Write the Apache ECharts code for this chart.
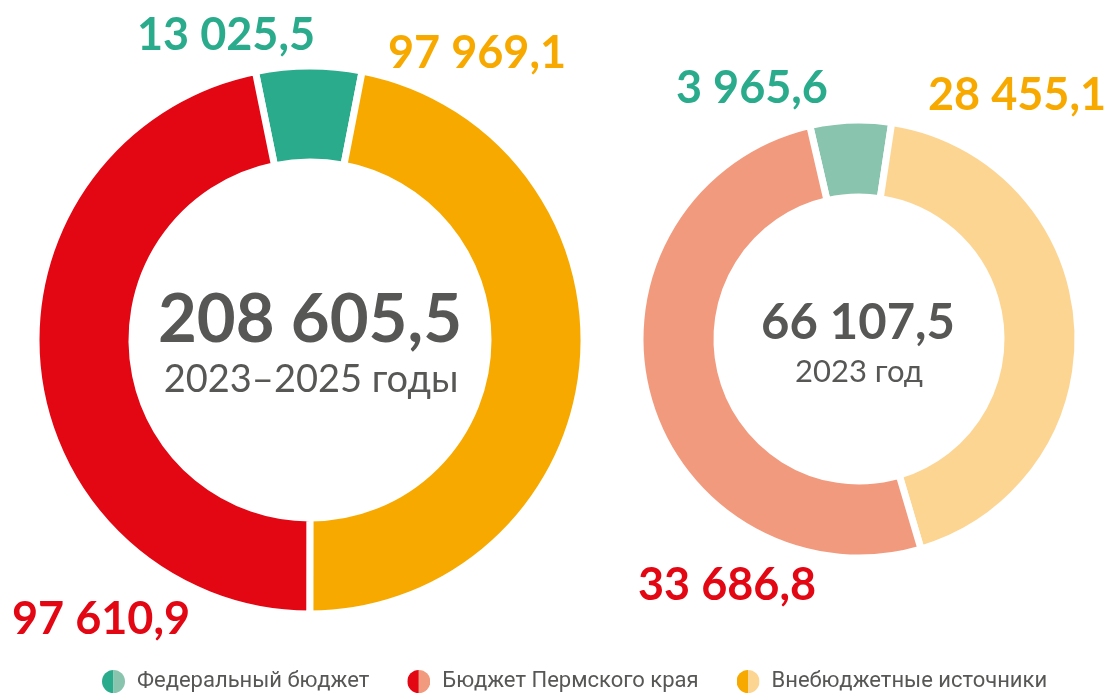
<!DOCTYPE html>
<html>
<head>
<meta charset="utf-8">
<script src="https://cdn.jsdelivr.net/npm/echarts@6/dist/echarts.min.js"></script>
<style>
  html, body { margin: 0; padding: 0; background: #fff; }
  #chart { width: 1111px; height: 693px; }
</style>
</head>
<body>
<div id="chart"></div>
<script>
// источники финансирования
var names = ['Федеральный бюджет', 'Внебюджетные источники', 'Бюджет Пермского края']
var legendOrder = ['Федеральный бюджет', 'Бюджет Пермского края', 'Внебюджетные источники']
// 2023–2025 годы
var valuesTotal = [13025.5, 97969.1, 97610.9]
// 2023 год
var values2023 = [3965.6, 28455.1, 33686.8]
var periodLabels = ['2023–2025 годы', '2023 год']

var darkColors = ['#2aac8c', '#f7a900', '#e30613']
var lightColors = ['#88c4ae', '#fdd593', '#f29a7d']
var textGrey = '#575756'
var numFont = 'Lato'

// подписи: левый край и середина заглавных
var labelPos = [
  [[137, 35], [388, 53], [12, 619]],
  [[676, 88], [928, 95], [638, 585]]
]

function fmt (v) {
  var parts = v.toFixed(1).split('.')
  return parts[0].replace(/\B(?=(\d{3})+(?!\d))/g, ' ') + ',' + parts[1]
}

function sum (arr) {
  return arr.reduce(function (a, b) { return a + b }, 0)
}

// иконка легенды: круг из двух половин
function halfIcon (c1, c2) {
  var svg = '<svg xmlns="http://www.w3.org/2000/svg" width="20" height="20" viewBox="0 0 20 20">' +
    '<path d="M10 0 A10 10 0 0 0 10 20 Z" fill="' + c1 + '"/>' +
    '<path d="M10 0 A10 10 0 0 1 10 20 Z" fill="' + c2 + '"/></svg>'
  return 'image://data:image/svg+xml;charset=utf-8,' + encodeURIComponent(svg)
}

function makeSeries (idx, values, colors, center, radius, startAngle) {
  return {
    type: 'pie',
    center: center,
    radius: radius,
    startAngle: startAngle,
    clockwise: true,
    avoidLabelOverlap: false,
    silent: true,
    itemStyle: { borderColor: '#fff', borderWidth: 7 },
    label: {
      show: true,
      position: 'outside',
      formatter: function (p) { return fmt(p.value) },
      fontFamily: numFont,
      fontWeight: 'bold',
      fontSize: 45
    },
    labelLine: { show: false },
    labelLayout: function (p) {
      var pos = labelPos[idx][p.dataIndex]
      return { x: pos[0], y: pos[1], align: 'left', verticalAlign: 'middle' }
    },
    data: values.map(function (v, i) {
      return {
        name: names[i],
        value: v,
        itemStyle: { color: colors[i] },
        label: { color: darkColors[i] }
      }
    })
  }
}

var chart = echarts.init(document.getElementById('chart'))
chart.setOption({
  animation: false,
  legend: {
    left: 97,
    top: 665,
    itemWidth: 23,
    itemHeight: 23,
    itemGap: 38,
    selectedMode: false,
    textStyle: { fontFamily: 'Roboto', fontSize: 22, color: textGrey, padding: [0, 0, 0, 7] },
    data: legendOrder.map(function (n) {
      var i = names.indexOf(n)
      return { name: n, icon: halfIcon(darkColors[i], lightColors[i]) }
    })
  },
  graphic: [
    {
      type: 'text', x: 310, y: 320,
      style: { text: fmt(sum(valuesTotal)), fill: textGrey, font: 'bold 67px ' + numFont, textAlign: 'center', textVerticalAlign: 'middle' }
    },
    {
      type: 'text', x: 311, y: 380,
      style: { text: periodLabels[0], fill: textGrey, font: '38px ' + numFont, textAlign: 'center', textVerticalAlign: 'middle' }
    },
    {
      type: 'text', x: 858, y: 323,
      style: { text: fmt(sum(values2023)), fill: textGrey, font: 'bold 49px ' + numFont, textAlign: 'center', textVerticalAlign: 'middle' }
    },
    {
      type: 'text', x: 859, y: 372,
      style: { text: periodLabels[1], fill: textGrey, font: '31px ' + numFont, textAlign: 'center', textVerticalAlign: 'middle' }
    }
  ],
  series: [
    makeSeries(0, valuesTotal, darkColors, [310, 340], [178, 274], 101.5),
    makeSeries(1, values2023, lightColors, [859, 339], [142, 219], 103)
  ]
})
</script>
</body>
</html>
